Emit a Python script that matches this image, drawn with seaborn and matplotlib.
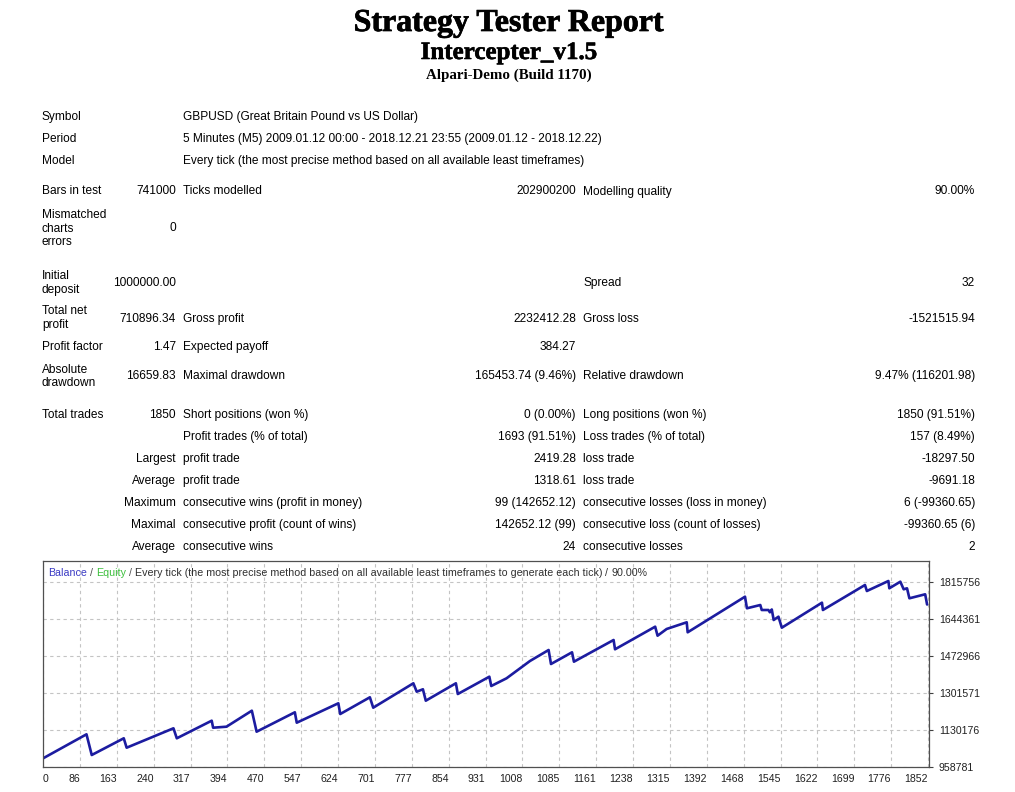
import matplotlib
matplotlib.use("Agg")
import pandas as pd
import seaborn as sns
import matplotlib.pyplot as plt
import matplotlib.patheffects as pe

# balance curve (trade number, balance)
trade_no = [0, 91, 102, 169, 175, 273, 280, 353, 356, 384, 437, 447, 527, 531,
            618, 622, 684, 691, 775, 782, 795, 801, 864, 868, 934, 938, 970, 1019,
            1058, 1063, 1107, 1111, 1194, 1197, 1281, 1286, 1305, 1347, 1349,
            1469, 1473, 1501, 1504, 1518, 1521, 1525, 1529, 1539, 1546, 1630, 1632,
            1720, 1724, 1769, 1771, 1794, 1801, 1808, 1813, 1846, 1850]
balance = [1000000, 1111200, 1015600, 1092800, 1049300, 1139000, 1092800, 1174100,
           1141700, 1146400, 1220300, 1123300, 1212900, 1164900, 1254500, 1205000,
           1282200, 1234200, 1346900, 1308100, 1319200, 1266500, 1346900, 1297400,
           1377400, 1334400, 1370000, 1449900, 1500700, 1436000, 1490100, 1446700,
           1546900, 1504000, 1608400, 1566800, 1597800, 1628700, 1582500, 1747000,
           1693400, 1708600, 1685500, 1685500, 1675000, 1688000, 1639300, 1654600,
           1603800, 1719300, 1685500, 1801000, 1773300, 1819500, 1785800, 1816300,
           1781200, 1785800, 1739600, 1758100, 1710896]

x_tick_labels = ["0", "86", "163", "240", "317", "394", "470", "547", "624", "701",
                 "777", "854", "931", "1008", "1085", "1161", "1238", "1315", "1392",
                 "1468", "1545", "1622", "1699", "1776", "1852"]
y_tick_values = [958781, 1130176, 1301571, 1472966, 1644361, 1815756]

titles = ["Strategy Tester Report", "Intercepter_v1.5", "Alpari-Demo (Build 1170)"]

header_rows = [
    ("Symbol", "GBPUSD (Great Britain Pound vs US Dollar)"),
    ("Period", "5 Minutes (M5) 2009.01.12 00:00 - 2018.12.21 23:55 (2009.01.12 - 2018.12.22)"),
    ("Model", "Every tick (the most precise method based on all available least timeframes)"),
]

stat_rows = [
    ("Bars in test", "741000", "Ticks modelled", "202900200", "Modelling quality", "90.00%"),
    ("Mismatched\ncharts\nerrors", "0", "", "", "", ""),
    ("Initial\ndeposit", "1000000.00", "", "", "Spread", "32"),
    ("Total net\nprofit", "710896.34", "Gross profit", "2232412.28", "Gross loss", "-1521515.94"),
    ("Profit factor", "1.47", "Expected payoff", "384.27", "", ""),
    ("Absolute\ndrawdown", "16659.83", "Maximal drawdown", "165453.74 (9.46%)",
     "Relative drawdown", "9.47% (116201.98)"),
    ("Total trades", "1850", "Short positions (won %)", "0 (0.00%)",
     "Long positions (won %)", "1850 (91.51%)"),
    ("", "", "Profit trades (% of total)", "1693 (91.51%)", "Loss trades (% of total)", "157 (8.49%)"),
    ("", "Largest", "profit trade", "2419.28", "loss trade", "-18297.50"),
    ("", "Average", "profit trade", "1318.61", "loss trade", "-9691.18"),
    ("", "Maximum", "consecutive wins (profit in money)", "99 (142652.12)",
     "consecutive losses (loss in money)", "6 (-99360.65)"),
    ("", "Maximal", "consecutive profit (count of wins)", "142652.12 (99)",
     "consecutive loss (count of losses)", "-99360.65 (6)"),
    ("", "Average", "consecutive wins", "24", "consecutive losses", "2"),
]

legend_parts = [
    ("Balance", "#3a3ac4"), ("/", "#505050"), ("Equity", "#3cbf3c"), ("/", "#505050"),
    ("Every tick (the most precise method based on all available least timeframes to generate each tick)", "#303030"),
    ("/", "#303030"), ("90.00%", "#303030"),
]

sns.set_theme(style="white")
plt.rcParams["font.family"] = ["Liberation Sans", "DejaVu Sans"]
plt.rcParams["text.color"] = "black"

W, H = 1015, 792
fig = plt.figure(figsize=(W / 100, H / 100), dpi=100)


def fx(px):
    return px / W


def fy(py):
    return 1 - py / H


# report heading
serif = ["Liberation Serif", "DejaVu Serif"]
fig.text(fx(509), fy(31), titles[0], family=serif, weight="bold", size=23, ha="center",
         va="baseline", path_effects=[pe.withStroke(linewidth=0.5, foreground="black")])
fig.text(fx(509), fy(59), titles[1], family=serif, weight="bold", size=18, ha="center",
         va="baseline", path_effects=[pe.withStroke(linewidth=0.4, foreground="black")])
fig.text(fx(509), fy(79), titles[2], family=serif, weight="bold", size=10.8, ha="center",
         va="baseline")

# table text (baselines in pixels from the top; wrapped labels by their last line)
fs = 8.6
header_y = [120, 142, 164]
for (lab, val), py in zip(header_rows, header_y):
    fig.text(fx(42), fy(py), lab, size=fs, va="baseline")
    fig.text(fx(183), fy(py), val, size=fs, va="baseline")

row_y = [194.5, 231, 286, 321.8, 350.5, 379.2, 417.8, 440.2, 462.2, 484.5, 506.2, 528.2, 550.2]
label_y = [194.5, 245.2, 292.5, 327.8, 350.5, 386.2, 417.8, 440.2, 462.2, 484.5, 506.2, 528.2, 550.2]
for row, py, ly in zip(stat_rows, row_y, label_y):
    c1, c2, c3, c4, c5, c6 = row
    fig.text(fx(42), fy(ly), c1, size=fs, va="baseline", linespacing=1.18)
    fig.text(fx(176), fy(py), c2, size=fs, va="baseline", ha="right")
    fig.text(fx(183), fy(py), c3, size=fs, va="baseline")
    fig.text(fx(576), fy(py), c4, size=fs, va="baseline", ha="right")
    fig.text(fx(583), fy(py), c5, size=fs, va="baseline")
    fig.text(fx(975), fy(py), c6, size=fs, va="baseline", ha="right")

# balance graph
ax = fig.add_axes([fx(43), fy(767.3), fx(929) - fx(43), (767.3 - 561) / H])
df = pd.DataFrame({"trade": trade_no, "balance": balance})
sns.lineplot(data=df, x="trade", y="balance", ax=ax, color="#1c1ca0", linewidth=1.9,
             estimator=None, sort=False)
ax.set_xlim(0, 1854)
ax.set_ylim(958781, 1911900)
ax.set_xlabel("")
ax.set_ylabel("")

ax.yaxis.tick_right()
ax.set_yticks(y_tick_values)
ax.set_yticklabels([str(v) for v in y_tick_values])
ax.set_xticks([i * 1852 / 24 for i in range(len(x_tick_labels))])
ax.set_xticklabels(x_tick_labels)
for i, lab in enumerate(ax.get_xticklabels()):
    lab.set_ha("left" if i == 0 else "right")
ax.tick_params(axis="both", direction="out", length=3, width=0.8, color="#404040",
               labelsize=7.6, labelcolor="#202020", pad=2)
ax.tick_params(axis="y", pad=4)
ax.grid(True, color="#c4c4c4", linestyle=(0, (3, 3)), linewidth=0.8)
for sp in ax.spines.values():
    sp.set_color("#505050")
    sp.set_linewidth(0.9)

# coloured caption in the graph's corner
cap_fs = 7.7
renderer = fig.canvas.get_renderer()
probe1 = fig.text(0, 0, "x x", size=cap_fs)
probe2 = fig.text(0, 0, "xx", size=cap_fs)
gap = (probe1.get_window_extent(renderer).width - probe2.get_window_extent(renderer).width) / W
probe1.remove()
probe2.remove()
cx = fx(48)
for s, c in legend_parts:
    t = fig.text(cx, fy(575.5), s, size=cap_fs, color=c, va="baseline")
    cx = t.get_window_extent(renderer).x1 / W + gap

fig.savefig("out.png", dpi=100, facecolor="white")
